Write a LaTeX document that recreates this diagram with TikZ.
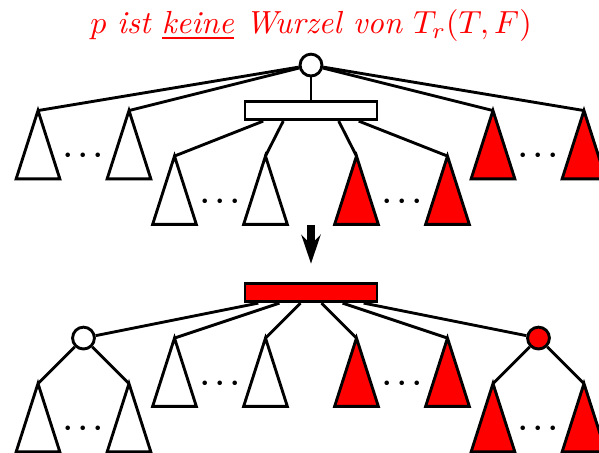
\documentclass[tikz,border=0pt]{standalone}
\usetikzlibrary{arrows.meta}

\begin{document}
\begin{tikzpicture}[x=0.5cm,y=0.5cm,line width=0.9pt,every node/.style={inner sep=0pt},
    racine/.style={draw,circle,minimum size=0.24cm},
    bloc/.style={draw,rectangle,minimum width=1.45cm,minimum height=0.2cm},
    points/.style={font=\small\boldmath}]

\clip (-6.835,-8.526) rectangle (6.33,1.43);

    %Hauteur d'un sous-arbre
    \def \Haut {1.5}
    %Demi-largeur de la base d'un sous-arbre
    \def \Demi {0.48}

% titre
\node[anchor=base,text=red] (titre) at (0,0.7) {$p$ \textit{ist \underline{keine} Wurzel von} $T_r(T,F)$};

%%%%%%%%%%%%%%%%%%%%%%%%
%Arbre avant
%%%%%%%%%%%%%%%%%%%%%%%%
\node[racine] (p) at (0,0) {};
\node[bloc] (noeud) at (0,-1) {};
\draw (p) -- (noeud);
% sous-arbres
\foreach \n/\x/\y/\c in {a1/-6/-1/white,a2/-4/-1/white,a3/4/-1/red,a4/6/-1/red,
                         b1/-3/-2/white,b2/-1/-2/white,b3/1/-2/red,b4/3/-2/red}{
    \coordinate (\n) at (\x,\y);
    \draw[fill=\c] (\n) -- ++(-\Demi,-\Haut) -- ++(2*\Demi,0) -- cycle;}
% aretes
\foreach \n in {a1,a2,a3,a4}{\draw (p) -- (\n);}
\foreach \d/\n in {-1.05/b1,-0.61/b2,0.61/b3,1.05/b4}{\draw ([xshift=\d*0.5cm]noeud.south) -- (\n);}

% fleche
\coordinate (f1) at (0,-3.51);
\coordinate (f2) at (0,-4.365);
\draw[line width=2.2pt,-{Stealth[length=9pt,width=6pt,inset=3pt]}] (f1) -- (f2);

%%%%%%%%%%%%%%%%%%%%%%%%
%Arbre apres
%%%%%%%%%%%%%%%%%%%%%%%%
\node[bloc,fill=red] (nouveau) at (0,-5) {};
\node[racine] (gauche) at (-5,-6) {};
\node[racine,fill=red] (droite) at (5,-6) {};
% sous-arbres
\foreach \n/\x/\y/\c in {c1/-3/-6/white,c2/-1/-6/white,c3/1/-6/red,c4/3/-6/red,
                         d1/-6/-7/white,d2/-4/-7/white,d3/4/-7/red,d4/6/-7/red}{
    \coordinate (\n) at (\x,\y);
    \draw[fill=\c] (\n) -- ++(-\Demi,-\Haut) -- ++(2*\Demi,0) -- cycle;}
% aretes
\foreach \n in {gauche,c1,c2,c3,c4,droite}{\draw (nouveau) -- (\n);}
\draw (gauche) -- (d1);
\draw (gauche) -- (d2);
\draw (droite) -- (d3);
\draw (droite) -- (d4);

% points de suspension
\foreach \x/\y [count=\i] in {-5/-2,5/-2,-2/-3,2/-3,-2/-7,2/-7,-5/-8,5/-8}{
    \node[points] (pts\i) at (\x,\y) {$\cdots$};}

\end{tikzpicture}
\end{document}
